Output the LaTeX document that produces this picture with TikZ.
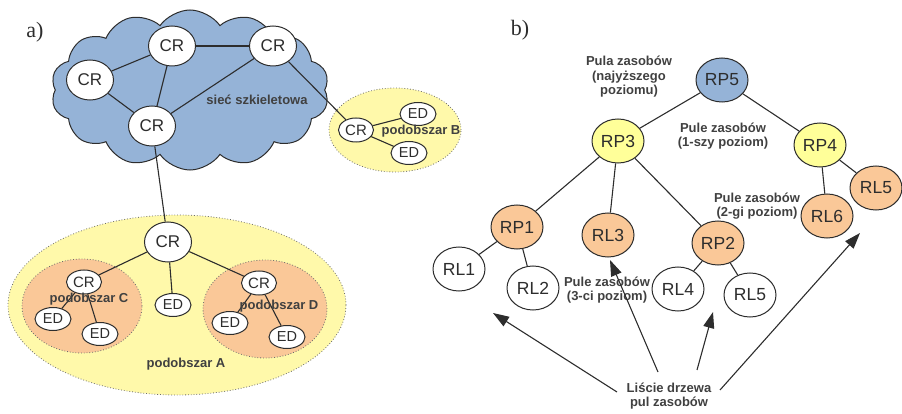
\documentclass[tikz,border=0pt]{standalone}
\usepackage{fontspec}
\setmainfont{Liberation Sans}
\newfontfamily\panelfont{Liberation Serif}
\usetikzlibrary{shapes.geometric,shapes.symbols,arrows.meta}

\definecolor{cloudblue}{RGB}{149,179,215}
\definecolor{areayellow}{RGB}{255,249,170}
\definecolor{areaorange}{RGB}{250,200,152}
\definecolor{poolyellow}{RGB}{255,255,153}
\definecolor{ink}{RGB}{45,45,45}
\definecolor{labelgray}{RGB}{64,64,64}

\begin{document}
\begin{tikzpicture}[x=1pt,y=-1pt,
  router/.style={ellipse, draw=ink, fill=white, line width=1pt, inner sep=0pt,
    minimum width=47pt, minimum height=40pt, text=ink,
    font=\fontsize{17}{17}\selectfont},
  smallrouter/.style={router, minimum width=35pt, minimum height=24pt,
    font=\fontsize{15}{15}\selectfont},
  device/.style={router, minimum width=36pt, minimum height=23pt,
    font=\fontsize{14.5}{15}\selectfont},
  pool/.style={ellipse, draw=ink, line width=1pt, inner sep=0pt,
    minimum width=52pt, minimum height=44pt, text=ink,
    font=\fontsize{17.5}{18}\selectfont},
  area/.style={ellipse, draw=ink!70, dotted, line width=0.8pt, inner sep=0pt},
  tag/.style={font=\bfseries\fontsize{13}{14.5}\selectfont, text=labelgray,
    align=center, inner sep=0pt},
  link/.style={draw=ink, line width=1.1pt},
  pointer/.style={draw=ink, line width=1.1pt, -{Triangle[length=16pt,width=11pt]}},
  panel/.style={font=\panelfont\fontsize{22}{22}\selectfont, text=ink, inner sep=0pt}
]
\useasboundingbox (0,0) rectangle (902,414);

% ---------- a) backbone and sub-areas ----------
\node[panel] (pa) at (35,32) {a)};

\node[cloud, draw=ink, fill=cloudblue, line width=1pt, cloud puffs=14,
      cloud puff arc=110, minimum width=278pt, minimum height=160pt,
      inner sep=0pt] (backbone) at (190,90) {};

\node[area, fill=areayellow, minimum width=132pt, minimum height=84pt] (areaB) at (395,130) {};
\node[area, fill=areayellow, minimum width=338pt, minimum height=180pt] (areaA) at (177,305) {};
\node[area, fill=areaorange, minimum width=120pt, minimum height=94pt] (areaC) at (82,306) {};
\node[area, fill=areaorange, minimum width=124pt, minimum height=98pt] (areaD) at (265,309) {};

% core routers
\node[router] (cr1) at (172,46) {CR};
\node[router] (cr2) at (273,46) {CR};
\node[router] (cr3) at (90,80) {CR};
\node[router] (cr4) at (152,126) {CR};
\node[router] (crA) at (168,242) {CR};

% sub-area B
\node[smallrouter] (crB) at (356,130) {CR};
\node[device] (edB1) at (418,114) {ED};
\node[device] (edB2) at (409,153) {ED};

% sub-area C
\node[smallrouter] (crC) at (84,282) {CR};
\node[device] (edC1) at (53,319) {ED};
\node[device] (edC2) at (100,334) {ED};

% sub-area A device
\node[device] (edA) at (173,305) {ED};

% sub-area D
\node[smallrouter] (crD) at (259,283) {CR};
\node[device] (edD1) at (230,323) {ED};
\node[device] (edD2) at (287,337) {ED};

\draw[link] (cr3) -- (cr1);
\draw[link] (cr1) -- (cr2);
\draw[link] (cr1) -- (cr4);
\draw[link] (cr3) -- (cr4);
\draw[link] (cr4) -- (cr2);
\draw[link] (cr2) -- (crB);
\draw[link] (crB) -- (edB1);
\draw[link] (crB) -- (edB2);
\draw[link] (cr4) -- (crA);
\draw[link] (crA) -- (crC);
\draw[link] (crA) -- (edA);
\draw[link] (crA) -- (crD);
\draw[link] (crC) -- (edC1);
\draw[link] (crC) -- (edC2);
\draw[link] (crD) -- (edD1);
\draw[link] (crD) -- (edD2);

\node[tag] (tBackbone) at (257,100) {sieć szkieletowa};
\node[tag] (tB) at (421,131) {podobszar B};
\node[tag] (tC) at (89,299) {podobszar C};
\node[tag] (tD) at (279,306) {podobszar D};
\node[tag] (tA) at (186,364) {podobszar A};

% ---------- b) resource pool tree ----------
\node[panel] (pb) at (520,30) {b)};

\node[pool, fill=cloudblue] (rp5) at (722,80) {RP5};
\node[pool, fill=poolyellow] (rp3) at (618,141) {RP3};
\node[pool, fill=poolyellow] (rp4) at (820,145) {RP4};
\node[pool, fill=areaorange] (rp1) at (517,227) {RP1};
\node[pool, fill=areaorange] (rl3) at (608,235) {RL3};
\node[pool, fill=areaorange] (rp2) at (718,243) {RP2};
\node[pool, fill=areaorange] (rl6) at (827,216) {RL6};
\node[pool, fill=areaorange] (rl5a) at (876,188) {RL5};
\node[pool, fill=white] (rl1) at (459,269) {RL1};
\node[pool, fill=white] (rl2) at (533,288) {RL2};
\node[pool, fill=white] (rl4) at (678,289) {RL4};
\node[pool, fill=white] (rl5b) at (750,295) {RL5};

\draw[link] (rp5) -- (rp3);
\draw[link] (rp5) -- (rp4);
\draw[link] (rp3) -- (rp1);
\draw[link] (rp3) -- (rl3);
\draw[link] (rp3) -- (rp2);
\draw[link] (rp4) -- (rl6);
\draw[link] (rp4) -- (rl5a);
\draw[link] (rp1) -- (rl1);
\draw[link] (rp1) -- (rl2);
\draw[link] (rp2) -- (rl4);
\draw[link] (rp2) -- (rl5b);

\node[tag] (tTop) at (629,77) {Pula zasobów\\(najyższego\\poziomu)};
\node[tag] (tL1) at (723,136) {Pule zasobów\\(1-szy poziom)};
\node[tag] (tL2) at (757,206) {Pule zasobów\\(2-gi poziom)};
\node[tag] (tL3) at (607,290) {Pule zasobów\\(3-ci poziom)};
\node[tag] (tLeaves) at (669,396) {Liście drzewa\\pul zasobów};

% arrows pointing at the leaves
\coordinate (s1) at (617,392);
\coordinate (e1) at (493,313);
\coordinate (s2) at (658,372);
\coordinate (e2) at (610,260);
\coordinate (s3) at (697,370);
\coordinate (e3) at (713,312);
\coordinate (s4) at (720,390);
\coordinate (e4) at (860,233);
\draw[pointer] (s1) -- (e1);
\draw[pointer] (s2) -- (e2);
\draw[pointer] (s3) -- (e3);
\draw[pointer] (s4) -- (e4);
\end{tikzpicture}
\end{document}
